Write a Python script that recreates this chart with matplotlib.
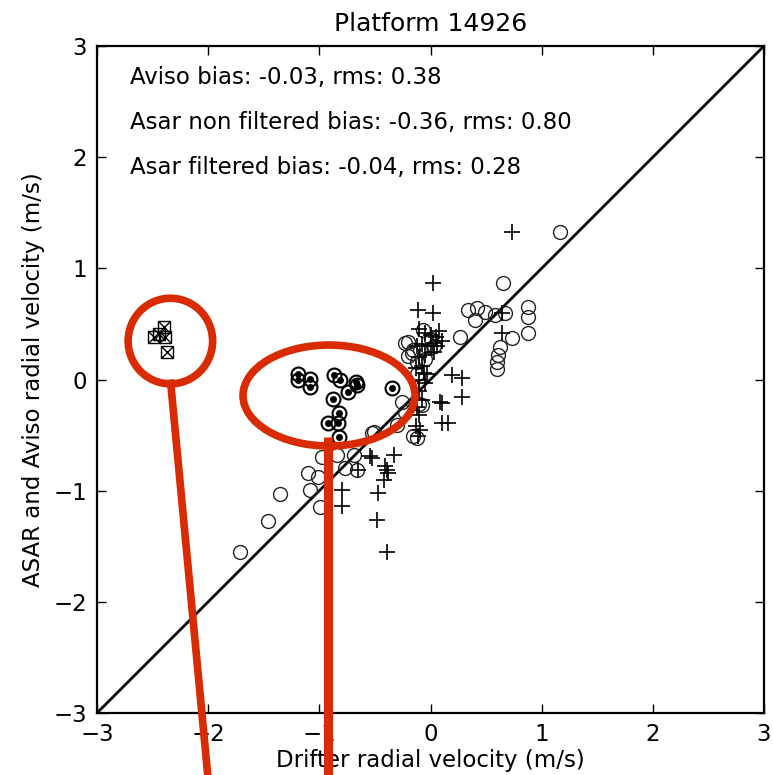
import matplotlib
matplotlib.use("Agg")
import matplotlib.pyplot as plt
from matplotlib.patches import Ellipse
import numpy as np

plt.rcParams['font.family'] = ['DejaVu Sans']

# Aviso velocities against drifter velocities (open circles)
aviso_x = [-1.71, -1.46, -1.35, -1.10, -1.01, -1.08, -0.99, -0.98, -0.84, -0.69,
           -0.66, -0.77, -0.53, -0.51, -0.30, -0.26, -0.23, -0.08, -0.125, -0.155,
           -0.23, -0.155, -0.125, -0.17, -0.20, -0.20, -0.095, -0.065, 0.00, 0.03,
           -0.05, -0.12, 1.165, 0.655, 0.34, 0.415, 0.49, 0.40, 0.58, 0.67,
           0.88, 0.88, 0.88, 0.265, 0.73, 0.625, 0.61, 0.595, 0.595, -0.10]
aviso_y = [-1.55, -1.27, -1.03, -0.84, -0.88, -0.99, -1.15, -0.70, -0.68, -0.68,
           -0.81, -0.80, -0.48, -0.47, -0.41, -0.20, -0.29, -0.23, -0.53, -0.51,
           0.325, 0.265, 0.16, 0.235, 0.34, 0.21, 0.265, 0.445, 0.36, 0.30,
           0.18, 0.05, 1.33, 0.865, 0.625, 0.64, 0.61, 0.535, 0.58, 0.595,
           0.655, 0.565, 0.415, 0.385, 0.37, 0.295, 0.22, 0.16, 0.09, -0.22]

# ASAR velocities, non filtered (plus signs)
asar_x = [0.73, 0.025, -0.11, 0.025, 0.64, 0.64, 0.19, 0.28, 0.28, 0.10,
          0.10, 0.16, -0.80, -0.80, -0.47, -0.48, -0.39, -0.54, -0.53, -0.33,
          -0.41, -0.39, -0.38, -0.42, -0.65, -0.10, -0.05, 0.00, 0.05, 0.08,
          -0.12, -0.08, 0.00, 0.06, 0.10, -0.10, -0.05, 0.03, -0.13, -0.08,
          -0.10, -0.05, -0.03, -0.10, -0.08, -0.12, -0.10, -0.13, -0.11, 0.085,
          -0.09, 0.02, -0.06]
asar_y = [1.33, 0.865, 0.625, 0.595, 0.595, 0.415, 0.04, 0.01, -0.155, -0.215,
          -0.39, -0.39, -0.99, -1.14, -1.02, -1.26, -1.55, -0.69, -0.71, -0.68,
          -0.78, -0.81, -0.84, -0.90, -0.81, 0.45, 0.42, 0.40, 0.38, 0.44,
          0.30, 0.32, 0.30, 0.30, 0.35, 0.20, 0.22, 0.25, 0.10, 0.12,
          0.00, -0.03, 0.05, -0.10, -0.18, -0.25, -0.32, -0.42, -0.51, -0.20,
          -0.45, 0.33, 0.06]

# Points removed by the filter (circle with dot)
filt_x = [-1.19, -1.19, -1.08, -1.08, -0.865, -0.81, -0.67, -0.66, -0.74, -0.88,
          -0.825, -0.92, -0.835, -0.825, -0.35]
filt_y = [0.05, 0.00, 0.005, -0.07, 0.04, 0.00, -0.02, -0.05, -0.11, -0.175,
          -0.30, -0.39, -0.39, -0.52, -0.08]

# Outliers far from the diagonal (boxed crosses)
out_x = [-2.49, -2.40, -2.39, -2.37, -2.44]
out_y = [0.385, 0.475, 0.385, 0.25, 0.41]

stats = [
    "Aviso bias: -0.03, rms: 0.38",
    "Asar non filtered bias: -0.36, rms: 0.80",
    "Asar filtered bias: -0.04, rms: 0.28",
]
stats_y = [2.72, 2.31, 1.91]

fs = 16.5
fig = plt.figure(figsize=(7.73, 7.75), dpi=100, facecolor='white')
ax = fig.add_axes([97 / 773, 1 - 713 / 775, 667 / 773, 667 / 775])

ax.plot([-3, 3], [-3, 3], color='black', lw=2.0, zorder=1)
ax.plot(aviso_x, aviso_y, 'o', mfc='none', mec='#222222', ms=10, mew=1.0, zorder=2)
ax.plot(asar_x, asar_y, '+', color='black', ms=11, mew=1.2, zorder=3)
ax.plot(filt_x, filt_y, 'o', mfc='none', mec='black', ms=10, mew=1.5, zorder=4)
ax.plot(filt_x, filt_y, 'o', color='black', ms=5, mew=0, zorder=5)
ax.plot(out_x, out_y, 's', mfc='none', mec='black', ms=9, mew=1.0, zorder=4)
ax.plot(out_x, out_y, 'x', color='black', ms=9, mew=1.0, zorder=5)

for t, y in zip(stats, stats_y):
    ax.text(-2.7, y, t, fontsize=fs, va='center', ha='left')

ax.set_xlim(-3, 3)
ax.set_ylim(-3, 3)
ax.set_xticks([-3, -2, -1, 0, 1, 2, 3])
ax.set_yticks([-3, -2, -1, 0, 1, 2, 3])
ax.tick_params(direction='in', top=True, right=True, length=6.5, width=1.0,
               labelsize=fs, pad=7)
for s in ax.spines.values():
    s.set_linewidth(1.6)
ax.set_title("Platform 14926", fontsize=18, pad=11)
ax.set_xlabel("Drifter radial velocity (m/s)", fontsize=fs, labelpad=2)
ax.set_ylabel("ASAR and Aviso radial velocity (m/s)", fontsize=fs, labelpad=6)

# Red highlight marks around the suspicious groups
red = '#DA2A00'
ax.add_patch(Ellipse((-2.34, 0.346), 0.76, 0.77, fill=False, ec=red, lw=5.5,
                     clip_on=False, zorder=10))
ax.add_patch(Ellipse((-0.913, -0.144), 1.547, 0.908, fill=False, ec=red, lw=5.5,
                     clip_on=False, zorder=10))
ax.plot([-2.34, -2.0], [0.0, -3.6], color=red, lw=5.5, clip_on=False, zorder=10,
        solid_capstyle='butt')
ax.plot([-0.92, -0.92], [-0.52, -3.6], color=red, lw=6.5, clip_on=False, zorder=10,
        solid_capstyle='butt')

fig.savefig("out.png", dpi=100, facecolor='white')
